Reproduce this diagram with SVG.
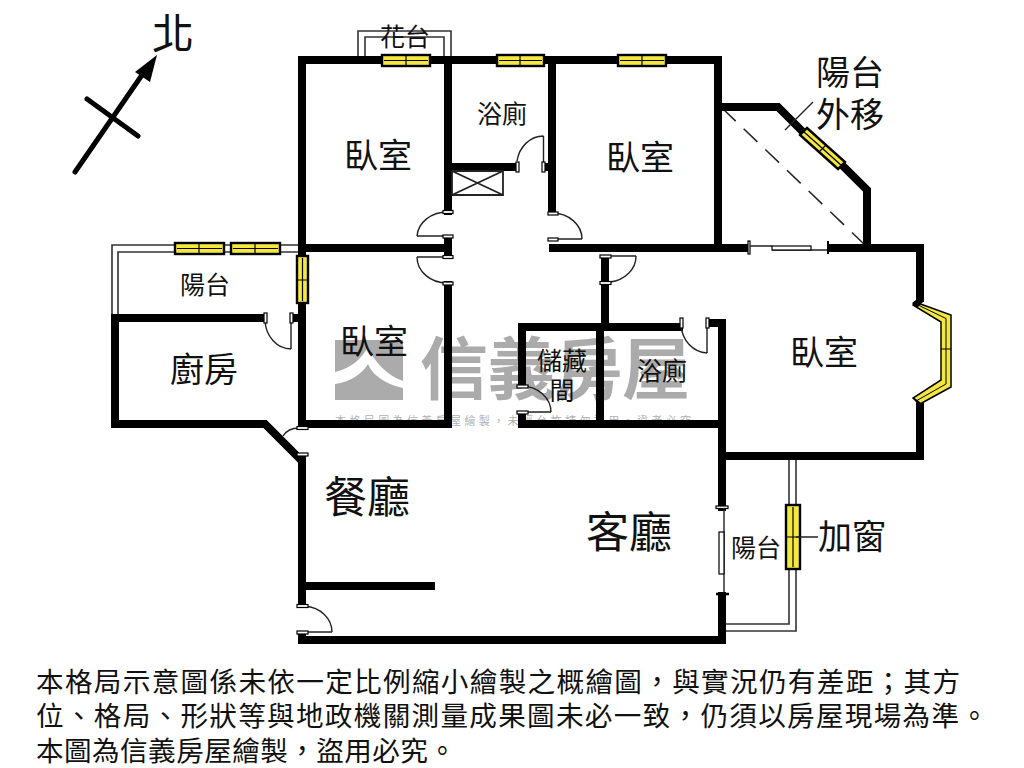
<svg xmlns="http://www.w3.org/2000/svg" width="1024" height="768" viewBox="0 0 1024 768">
<style>
.wall{fill:none;stroke:#000;stroke-width:8;stroke-linecap:square;stroke-linejoin:miter}
.thin{fill:none;stroke:#222;stroke-width:1.4}
.dbl{fill:none;stroke:#333;stroke-width:1.6}
.win{fill:#f4e840;stroke:#000;stroke-width:2.4}
.jamb{fill:#fff;stroke:#000;stroke-width:1.2}
.t{font-family:"Noto Sans CJK TC","Noto Sans CJK SC",sans-serif;fill:#111;text-anchor:middle}
.s25{font-size:25px}.s34{font-size:34px}.s43{font-size:43px}
.foot{font-family:"Noto Sans CJK TC","Noto Sans CJK SC",sans-serif;font-size:27.6px;fill:#111}
</style>
<rect width="1024" height="768" fill="#fff"/>
<g id="watermark">
<rect x="335" y="340" width="68" height="60" fill="#ababab"/>
<path d="M335 372C352 368 362 358 368 347C374 362 388 376 403 381L403 388C384 384 372 374 368 364C362 374 350 382 335 384Z" fill="#fff"/>
<text x="420" y="394" font-family="Noto Sans CJK TC,sans-serif" font-size="68" font-weight="700" fill="#ababab" textLength="270" lengthAdjust="spacing">信義房屋</text>
<text x="335" y="425" font-family="Noto Sans CJK TC,sans-serif" font-size="11" fill="#b0b0b0" textLength="356" lengthAdjust="spacing">本格局圖為信義房屋繪製，未經允許請勿盜用，違者必究</text>
</g>
<g id="balconies">
<path class="dbl" d="M358 57V31H451V57M365 57V37H444V57"/>
<path class="dbl" d="M112 318V245H300M118 318V252H300"/>
<path class="dbl" d="M789 456V624H725M796 456V631H725"/>
<path d="M722 108L865 245" fill="none" stroke="#222" stroke-width="1.5" stroke-dasharray="19 11"/>
</g>
<g id="walls">
<path class="wall" d="M302 60H382M430 60H497M544 60H618M666 60H718V248"/>
<path class="wall" d="M302 60V256M302 303V424M302 248H444M448 60V211"/>
<path class="wall" d="M448 167H515M546 167H552M552 60V211"/>
<path class="wall" d="M448 240V254"/>
<path class="wall" d="M448 285V424H302"/>
<path class="wall" d="M553 248H746M831 248H920V298M920 407V456H724"/>
<path class="wall" d="M721 107H778L803 132M842 165L867 190V248"/>
<path class="wall" d="M115 318H262M294 318H302M115 318V424H265L299 458M302 458V604"/>
<path class="wall" d="M302 586H431M302 636V640H722V596M722 507V323H710"/>
<path class="wall" d="M605 259V283M605 323V285M522 384V327H679M600 327V424M522 416V424H720"/>
</g>
<g id="windows">
<g class="win"><rect x="382" y="55" width="48" height="11"/><path d="M406 55V66M384 60.500H428" fill="none" stroke="#000" stroke-width="1.200"/></g>
<g class="win"><rect x="497" y="55" width="47" height="11"/><path d="M520 55V66M499 60.500H542" fill="none" stroke="#000" stroke-width="1.200"/></g>
<g class="win"><rect x="618" y="55" width="48" height="11"/><path d="M642 55V66M620 60.500H664" fill="none" stroke="#000" stroke-width="1.200"/></g>
<g class="win"><rect x="175" y="243" width="49" height="11"/><path d="M199 243V254M177 248.500H222" fill="none" stroke="#000" stroke-width="1.200"/></g>
<g class="win"><rect x="231" y="243" width="49" height="11"/><path d="M255 243V254M233 248.500H278" fill="none" stroke="#000" stroke-width="1.200"/></g>
<g class="win"><rect x="297" y="256" width="11" height="47"/><path d="M297 280H308M302.500 258V301" fill="none" stroke="#000" stroke-width="1.200"/></g>
<g class="win"><rect x="786" y="505" width="14" height="64"/><path d="M786 537H800M793 507V567" fill="none" stroke="#000" stroke-width="1.200"/></g>
<g class="win"><path d="M800 135L807 128L845 162L838 169Z"/><path d="M803.500 131.500L841.500 165.500M819 152L826 145" fill="none" stroke="#000" stroke-width="1.200"/></g>
<path class="win" stroke-width="1.500" d="M915 302L951 315V387L920 404L913 398L941 380V322L913 305Z" style="stroke-width:1.500"/>
<path d="M915 303.500L946 318.500V384L916 401M941 349H951" fill="none" stroke="#000" stroke-width="1"/>
<path d="M912 303L920 297L924 301L917 308ZM913 397L920 402L924 407L917 404Z" fill="#000"/>
</g>
<g id="doors">
<path class="thin" d="M417 236H447M417 236A30 26 0 0 1 447 212"/>
<path class="thin" d="M417 257H447M417 257A30 26 0 0 0 447 283"/>
<path class="thin" d="M582 239H552M582 239A30 26 0 0 0 552 213"/>
<path class="thin" d="M543.500 136V166M543.500 136A27 30 0 0 0 517 161"/>
<path class="thin" d="M636 256H605M636 256A30 26 0 0 1 610 282"/>
<path class="thin" d="M707 323V353M707 353A27 30 0 0 1 681 325"/>
<path class="thin" d="M291 318V349M291 349A26 30 0 0 1 265 320"/>
<path class="thin" d="M551 412H518M551 412A30 26 0 0 0 522 386"/>
<path class="thin" d="M332 632H298M332 632A30 26 0 0 0 305 606"/>
<path class="thin" d="M299 428Q288 428 283 436"/>
<rect class="jamb" x="443" y="210.500" width="10" height="3"/><rect class="jamb" x="443" y="235" width="10" height="3"/>
<rect class="jamb" x="443" y="255.500" width="10" height="3"/><rect class="jamb" x="443" y="282" width="10" height="3"/>
<rect class="jamb" x="548" y="212" width="10" height="3"/><rect class="jamb" x="548" y="238" width="10" height="3"/>
<rect class="jamb" x="516" y="162" width="3" height="10"/><rect class="jamb" x="542" y="162" width="3" height="10"/>
<rect class="jamb" x="600" y="255" width="11" height="3"/><rect class="jamb" x="600" y="281.500" width="11" height="3"/>
<rect class="jamb" x="680" y="318" width="3" height="10"/><rect class="jamb" x="706" y="318" width="3" height="10"/>
<rect class="jamb" x="264" y="313" width="3" height="10"/><rect class="jamb" x="290" y="313" width="3" height="10"/>
<rect class="jamb" x="517" y="385" width="11" height="3"/><rect class="jamb" x="517" y="411" width="11" height="3"/>
<rect class="jamb" x="297" y="604.500" width="11" height="3"/><rect class="jamb" x="297" y="631" width="11" height="3"/>
<rect class="jamb" x="297" y="426.500" width="11" height="3"/><rect class="jamb" x="297" y="453" width="11" height="3"/>
</g>
<g id="sliding-doors">
<rect class="jamb" x="748" y="241" width="2" height="13"/>
<path class="thin" d="M750 246H772M772 250H828"/>
<rect class="jamb" x="772" y="246" width="39" height="4"/>
<path d="M828 241V254" stroke="#000" stroke-width="2"/>
<rect class="jamb" x="716" y="506" width="12" height="2.500"/>
<path class="thin" d="M724 508V594"/>
<rect class="jamb" x="719" y="532" width="5" height="42"/>
<path d="M716 594H729" stroke="#000" stroke-width="2.500"/>
</g>
<g id="closet">
<path class="thin" d="M452 171V195H503V171H452L503 195M452 195L503 171" style="stroke-width:1.800"/>
</g>
<g id="north-arrow">
<path d="M75 172L142 75M87 99L138 136" fill="none" stroke="#000" stroke-width="5" stroke-linecap="round"/>
<path d="M157 55L135 72L150 82Z" fill="#000"/>
<text class="t" x="173" y="49" font-size="42">北</text>
</g>
<g id="leaders">
<path class="thin" d="M785 130L813 102M796 537H818"/>
</g>
<g id="labels">
<text class="t s25" x="405" y="46">花台</text>
<text class="t s25" x="502" y="123">浴廁</text>
<text class="t s34" x="378" y="168">臥室</text>
<text class="t s34" x="640" y="170">臥室</text>
<text class="t s34" x="850" y="85">陽台</text>
<text class="t s34" x="850" y="127">外移</text>
<text class="t s25" x="205" y="294">陽台</text>
<text class="t s34" x="204" y="382">廚房</text>
<text class="t s34" x="374" y="354">臥室</text>
<text class="t s25" x="562" y="370">儲藏</text>
<text class="t s25" x="562" y="400">間</text>
<text class="t s25" x="662" y="380">浴廁</text>
<text class="t s34" x="824" y="365">臥室</text>
<text class="t s43" x="367" y="513">餐廳</text>
<text class="t s43" x="629" y="548">客廳</text>
<text class="t s25" x="756" y="557">陽台</text>
<text class="t s34" x="852" y="549">加窗</text>
</g>
<g id="disclaimer">
<text class="foot" x="36" y="692" textLength="924" lengthAdjust="spacing">本格局示意圖係未依一定比例縮小繪製之概繪圖，與實況仍有差距；其方</text>
<text class="foot" x="36" y="726" textLength="952" lengthAdjust="spacing">位、格局、形狀等與地政機關測量成果圖未必一致，仍須以房屋現場為準。</text>
<text class="foot" x="36" y="761" textLength="420" lengthAdjust="spacing">本圖為信義房屋繪製，盜用必究。</text>
</g>
</svg>
